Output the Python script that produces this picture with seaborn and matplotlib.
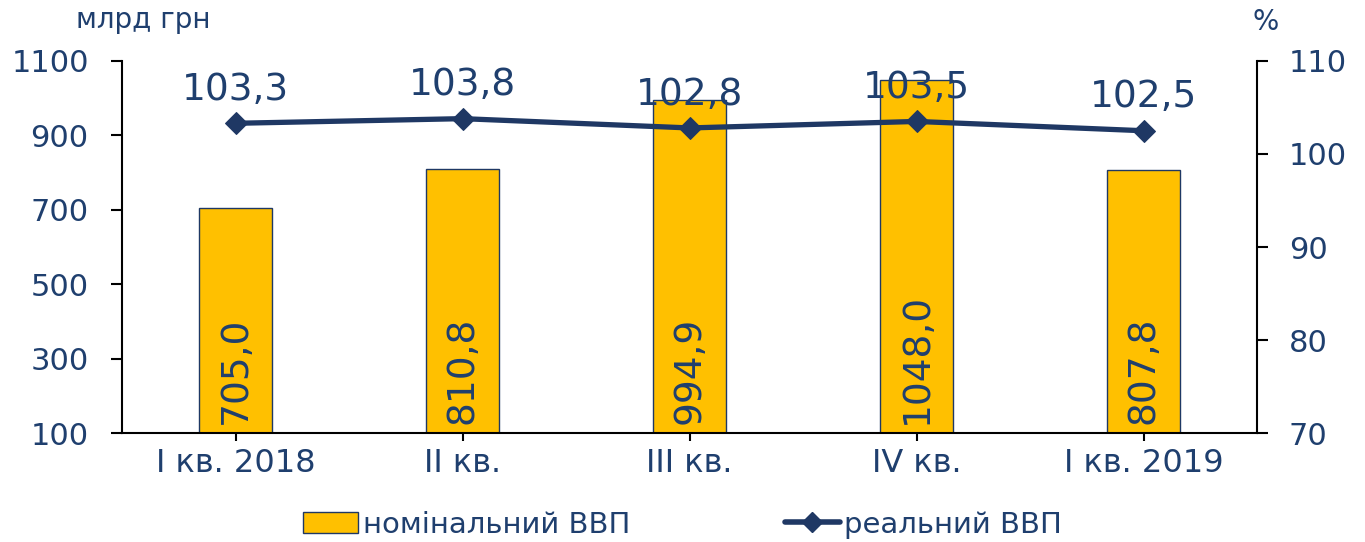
import numpy as np
import pandas as pd
import matplotlib
matplotlib.use('Agg')
import matplotlib.pyplot as plt
from matplotlib.patches import Patch
from matplotlib.lines import Line2D
import seaborn as sns

# chart data
quarters = ['I кв. 2018', 'II кв.', 'III кв.', 'IV кв.', 'I кв. 2019']
nominal_gdp = [705.0, 810.8, 994.9, 1048.0, 807.8]
real_gdp = [103.3, 103.8, 102.8, 103.5, 102.5]
left_ticks = [100, 300, 500, 700, 900, 1100]
right_ticks = [70, 80, 90, 100, 110]

TEXT = '#1F3F6E'
NAVY = '#1F3864'
GOLD = '#FFC000'


def fmt(v):
    return f'{v:.1f}'.replace('.', ',')


sns.set_style('white')
plt.rcParams['font.family'] = ['DejaVu Sans']

fig = plt.figure(figsize=(13.65, 5.42), dpi=100)
ax = fig.add_axes([0.0894, 0.201, 0.8315, 0.6865])

df = pd.DataFrame({'quarter': quarters, 'nominal': nominal_gdp})
sns.barplot(data=df, x='quarter', y='nominal', ax=ax, color=GOLD,
            width=0.32, edgecolor=NAVY, linewidth=1, saturation=1)
ax.set_ylim(100, 1100)
ax.set_xlim(-0.5, len(quarters) - 0.5)
ax.set_yticks(left_ticks)
ax.set_xlabel('')
ax.set_ylabel('')
ax.tick_params(axis='y', labelsize=22, labelcolor=TEXT, length=8, width=1.5,
               color='black', direction='out', left=True, pad=16)
ax.tick_params(axis='x', labelsize=23, labelcolor=TEXT, length=6, width=1.5,
               color='black', direction='out', bottom=True, pad=5)
for s in ['top', 'right']:
    ax.spines[s].set_visible(False)
for s in ['left', 'bottom']:
    ax.spines[s].set_color('black')
    ax.spines[s].set_linewidth(1.5)

# values inside the bars
for i, v in enumerate(nominal_gdp):
    ax.text(i, 100 + 24, fmt(v), rotation=90, ha='center', va='bottom',
            fontsize=27, color=TEXT)

ax2 = ax.twinx()
sns.lineplot(x=np.arange(len(real_gdp)), y=real_gdp, ax=ax2, color=NAVY,
             linewidth=3.8, marker='D', markersize=11, markeredgecolor=NAVY)
ax2.set_ylim(70, 110)
ax2.set_yticks(right_ticks)
ax2.set_xlim(-0.5, len(quarters) - 0.5)
ax2.tick_params(axis='y', labelsize=22, labelcolor=TEXT, length=8, width=1.5,
                color='black', direction='out', right=True, pad=15)
for s in ['top', 'left', 'bottom']:
    ax2.spines[s].set_visible(False)
ax2.spines['right'].set_color('black')
ax2.spines['right'].set_linewidth(1.5)

for i, v in enumerate(real_gdp):
    ax2.annotate(fmt(v), (i, v), xytext=(0, 11), textcoords='offset points',
                 ha='center', va='bottom', fontsize=27, color=TEXT)

fig.text(143 / 1365, 1 - 20 / 542, 'млрд грн', ha='center', va='center',
         fontsize=20, color=TEXT)
fig.text(1266 / 1365, 1 - 22 / 542, '%', ha='center', va='center',
         fontsize=20, color=TEXT)

handles = [Patch(facecolor=GOLD, edgecolor=NAVY, linewidth=1),
           Line2D([0], [0], color=NAVY, linewidth=4, marker='D',
                  markersize=10)]
fig.legend(handles, ['номінальний ВВП', 'реальний ВВП'], loc='center',
           bbox_to_anchor=(0.5, 0.032), ncol=2, frameon=False, fontsize=21,
           labelcolor=TEXT, handlelength=1.9, handletextpad=0.15,
           columnspacing=5.3)

fig.savefig('out.png', dpi=100)
